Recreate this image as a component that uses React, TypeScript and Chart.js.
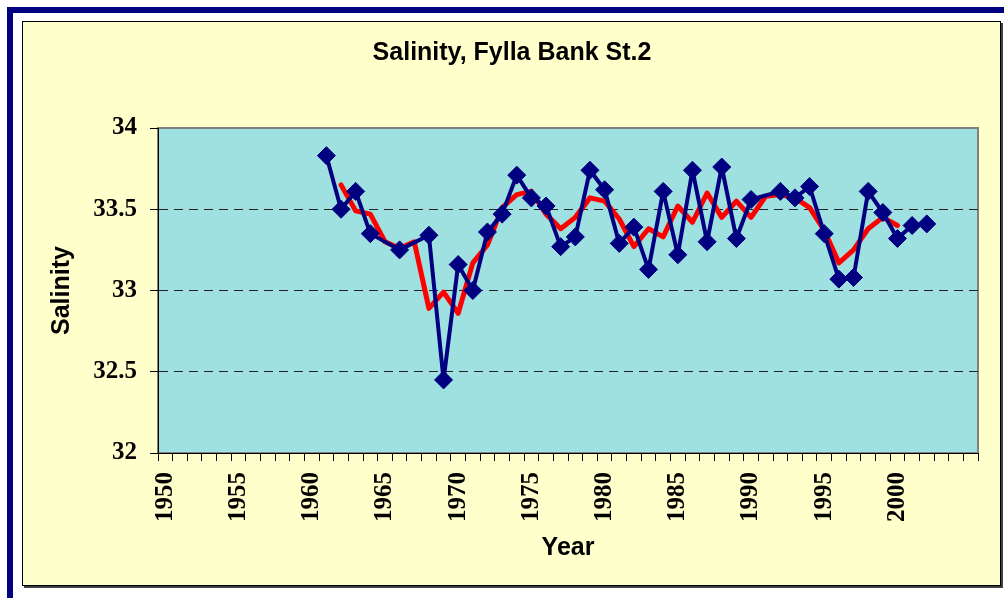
import React, { useEffect, useRef } from 'react';
import { Chart, registerables } from 'chart.js';

Chart.register(...registerables);

const years = [
  '1950', '1951', '1952', '1953', '1954', '1955', '1956', '1957', '1958', '1959',
  '1960', '1961', '1962', '1963', '1964', '1965', '1966', '1967', '1968', '1969',
  '1970', '1971', '1972', '1973', '1974', '1975', '1976', '1977', '1978', '1979',
  '1980', '1981', '1982', '1983', '1984', '1985', '1986', '1987', '1988', '1989',
  '1990', '1991', '1992', '1993', '1994', '1995', '1996', '1997', '1998', '1999',
  '2000', '2001', '2002', '2003', '2004', '2005',
];

const salinity: (number | null)[] = [
  null, null, null, null, null, null, null, null, null, null,
  null, 33.83, 33.5, 33.61, 33.35, null, 33.25, null, 33.34, 32.45,
  33.16, 33.0, 33.36, 33.47, 33.71, 33.57, 33.52, 33.27, 33.33, 33.74,
  33.62, 33.29, 33.39, 33.13, 33.61, 33.22, 33.74, 33.3, 33.76, 33.32,
  33.56, null, 33.61, 33.57, 33.64, 33.35, 33.07, 33.08, 33.61, 33.48,
  33.32, 33.4, 33.41, null, null, null,
];

const runningMean: (number | null)[] = [
  null, null, null, null, null, null, null, null, null, null,
  null, null, 33.65, 33.49, 33.47, 33.3, 33.26, 33.3, 32.89, 32.99,
  32.86, 33.17, 33.28, 33.51, 33.59, 33.61, 33.47, 33.38, 33.45, 33.57,
  33.55, 33.44, 33.27, 33.38, 33.33, 33.52, 33.42, 33.6, 33.45, 33.55,
  33.45, 33.58, 33.59, 33.57, 33.51, 33.37, 33.17, 33.25, 33.38, 33.45,
  33.4, null, null, null, null, null,
];

const yTickValues = [32, 32.5, 33, 33.5, 34];

const titleText = 'Salinity, Fylla Bank St.2';
const xTitleText = 'Year';
const yTitleText = 'Salinity';

const SANS = "'Liberation Sans', Arial, sans-serif";
const SERIF = "'Liberation Serif', 'Times New Roman', serif";

export default function App() {
  const ref = useRef<HTMLCanvasElement | null>(null);

  useEffect(() => {
    if (!ref.current) return;
    const plotBg = {
      id: 'plotBg',
      beforeDraw(chart: any) {
        const { ctx, chartArea: a } = chart;
        ctx.save();
        ctx.fillStyle = '#9FE0E0';
        ctx.fillRect(a.left, a.top, a.right - a.left, a.bottom - a.top);
        ctx.strokeStyle = '#808080';
        ctx.lineWidth = 2;
        ctx.strokeRect(a.left, a.top, a.right - a.left, a.bottom - a.top);
        ctx.restore();
      },
    };

    const chart = new Chart(ref.current, {
      type: 'line',
      data: {
        labels: years,
        datasets: [
          {
            label: 'Salinity',
            data: salinity,
            borderColor: '#000080',
            backgroundColor: '#000080',
            borderWidth: 4,
            borderJoinStyle: 'round',
            pointStyle: 'rectRot',
            pointRadius: 9,
            pointBorderWidth: 1,
            pointBackgroundColor: '#000080',
            pointBorderColor: '#000080',
            spanGaps: true,
            tension: 0,
          },
          {
            label: 'Running mean',
            data: runningMean,
            borderColor: '#FF0000',
            backgroundColor: '#FF0000',
            borderWidth: 5,
            borderJoinStyle: 'round',
            borderCapStyle: 'round',
            pointRadius: 0,
            spanGaps: true,
            tension: 0,
          },
        ],
      },
      plugins: [plotBg],
      options: {
        responsive: false,
        animation: false,
        devicePixelRatio: 1,
        layout: { padding: { left: 23, top: 22, right: 3, bottom: 12 } },
        plugins: {
          legend: { display: false },
          tooltip: { enabled: false },
          title: {
            display: true,
            text: titleText,
            color: '#000',
            font: { family: SANS, size: 25, weight: 'bold' },
            padding: { top: 16, bottom: 60 },
          },
        },
        scales: {
          x: {
            type: 'category',
            offset: true,
            grid: {
              offset: true,
              drawOnChartArea: false,
              drawTicks: true,
              tickLength: 8,
              color: '#000',
              tickColor: '#000',
            },
            border: { display: true, color: '#000', width: 1 },
            ticks: {
              autoSkip: false,
              maxRotation: 90,
              minRotation: 90,
              padding: 11,
              color: '#000',
              font: { family: SERIF, size: 25, weight: 'bold' },
              callback: (_v: any, i: number) => {
                const y = Number(years[i]);
                return y % 5 === 0 && y <= 2000 ? years[i] : '';
              },
            },
            title: {
              display: true,
              text: xTitleText,
              color: '#000',
              font: { family: SANS, size: 25, weight: 'bold' },
              padding: { top: 0, bottom: 23 },
            },
            afterFit: (s: any) => {
              s.height = 133;
              s.paddingLeft = 0;
              s.paddingRight = 0;
            },
          },
          y: {
            type: 'linear',
            min: 32,
            max: 34,
            afterBuildTicks: (s: any) => {
              s.ticks = yTickValues.map((v) => ({ value: v }));
            },
            ticks: {
              stepSize: 0.5,
              padding: 13,
              color: '#000',
              font: { family: SERIF, size: 25, weight: 'bold' },
              callback: (v: any) => String(v),
            },
            grid: {
              color: (c: any) =>
                c.tick && (c.tick.value === 32 || c.tick.value === 34) ? 'rgba(0,0,0,0)' : '#222',
              tickColor: '#000',
              tickLength: 8,
              lineWidth: 1,
            },
            border: { display: true, color: '#000', width: 1, dash: [9, 6] },
            title: {
              display: true,
              text: yTitleText,
              color: '#000',
              font: { family: SANS, size: 25, weight: 'bold' },
              padding: { top: 24, bottom: 0 },
            },
            afterFit: (s: any) => {
              s.width = 135;
            },
          },
          yR: {
            type: 'linear',
            position: 'right',
            min: 0,
            max: 1,
            display: true,
            ticks: { display: false },
            grid: { display: false, drawTicks: false },
            border: { display: false },
            afterFit: (s: any) => {
              s.width = 23;
            },
          },
        },
      },
    } as any);

    return () => chart.destroy();
  }, []);

  return (
    <div style={{ position: 'absolute', left: 0, top: 0, width: 1004, height: 598, background: '#fff', overflow: 'hidden' }}>
      <div
        style={{
          position: 'absolute',
          left: 7,
          top: 7,
          width: 1010,
          height: 610,
          borderLeft: '6px solid #000080',
          borderTop: '6px solid #000080',
        }}
      />
      <div
        style={{
          position: 'absolute',
          left: 22,
          top: 21,
          width: 979,
          height: 565,
          boxSizing: 'border-box',
          background: '#FFFFCC',
          border: '1px solid #000',
          boxShadow: '2px 2px 0 #404040',
        }}
      />
      <canvas ref={ref} width={1004} height={598} style={{ position: 'absolute', left: 0, top: 0, width: 1004, height: 598 }} />
    </div>
  );
}
